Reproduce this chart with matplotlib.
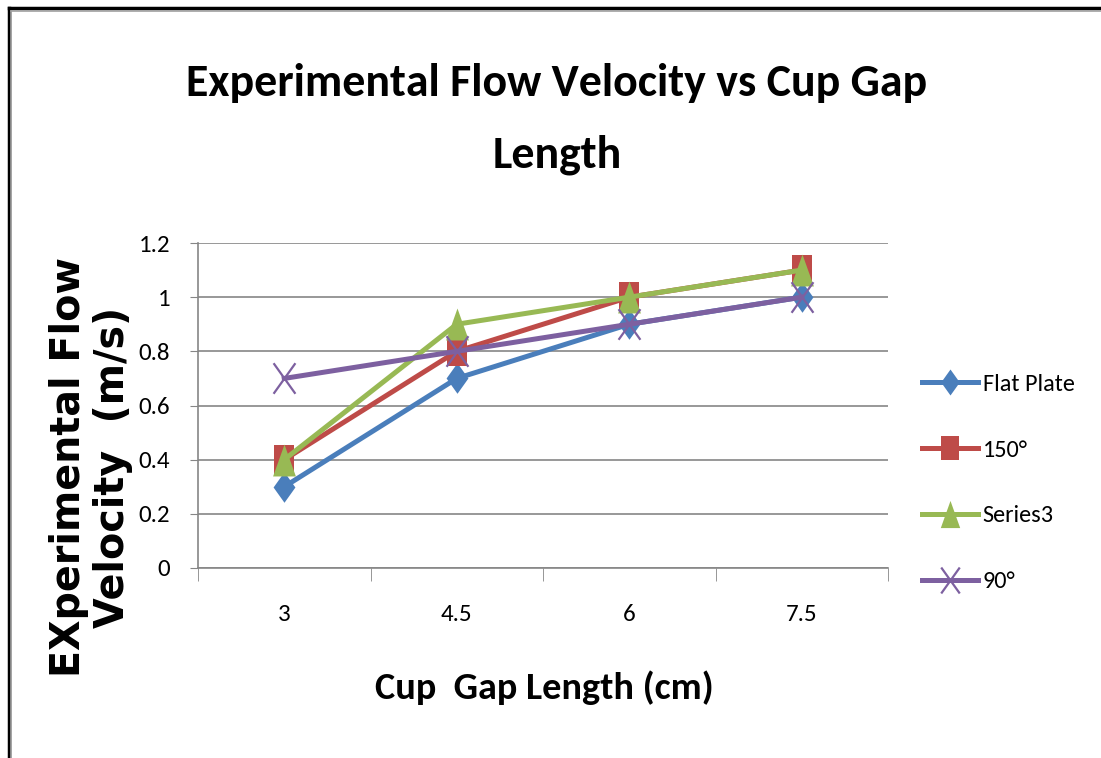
import matplotlib
matplotlib.use("Agg")
import matplotlib.pyplot as plt
from matplotlib.lines import Line2D
from matplotlib.path import Path

# gap lengths (cm) and measured velocities (m/s)
gap_labels = ["3", "4.5", "6", "7.5"]
flat_plate = [0.3, 0.7, 0.9, 1.0]
cup_150 = [0.4, 0.8, 1.0, 1.1]
series3 = [0.4, 0.9, 1.0, 1.1]
cup_90 = [0.7, 0.8, 0.9, 1.0]
y_ticks = [0, 0.2, 0.4, 0.6, 0.8, 1, 1.2]
y_tick_labels = ["0", "0.2", "0.4", "0.6", "0.8", "1", "1.2"]

calibri = ["Carlito", "DejaVu Sans"]
plt.rcParams["font.family"] = calibri

# slightly tall marker shapes
k = 1.4
diamond = Path([(0, k), (1, 0), (0, -k), (-1, 0), (0, k)], closed=True)
square = Path([(-1, -k), (1, -k), (1, k), (-1, k), (-1, -k)], closed=True)
triangle = Path([(-1, -k), (1, -k), (0, k), (-1, -k)], closed=True)
cross = Path([(-1, -k), (1, k), (-1, k), (1, -k)],
             [Path.MOVETO, Path.LINETO, Path.MOVETO, Path.LINETO])

fig = plt.figure(figsize=(11.01, 7.58), dpi=100)
W, H = 1101, 758
# plot area in pixels: left 198, right 888, top 243, bottom 568
ax = fig.add_axes([198 / W, 1 - 568 / H, (888 - 198) / W, (568 - 243) / H])

x = range(len(gap_labels))
ax.plot(x, flat_plate, color="#4A7EBB", lw=3.6, marker=diamond, ms=22, mew=0, label="Flat Plate")
ax.plot(x, cup_150, color="#BE4B48", lw=3.6, marker=square, ms=21, mew=0, label="150°")
ax.plot(x, series3, color="#98B954", lw=3.6, marker=triangle, ms=23, mew=0, label="Series3")
ax.plot(x, cup_90, color="#7D60A0", lw=3.6, marker=cross, ms=22, mew=1.6, label="90°")

ax.set_xlim(-0.5, len(gap_labels) - 0.5)
ax.set_ylim(0, 1.2)
ax.set_yticks(y_ticks)
ax.set_yticklabels(y_tick_labels, fontsize=18)
ax.set_xticks(list(x))
ax.set_xticklabels(gap_labels, fontsize=18)
ax.set_xticks([i - 0.5 for i in range(len(gap_labels) + 1)], minor=True)
ax.tick_params(axis="x", which="major", length=0, pad=26)
ax.tick_params(axis="x", which="minor", length=9.5, color="#868686", direction="out")
ax.tick_params(axis="y", length=6, color="#868686", pad=14)
ax.grid(axis="y", color="#868686", lw=1.2)
ax.set_axisbelow(True)
for s in ["top", "right"]:
    ax.spines[s].set_visible(False)
for s in ["left", "bottom"]:
    ax.spines[s].set_color("#868686")
    ax.spines[s].set_linewidth(1.2)

fig.text(557 / W, 1 - 119 / H, "Experimental Flow Velocity vs Cup Gap\nLength",
         ha="center", va="center", fontsize=33, fontweight="bold", linespacing=1.95)
fig.text(544 / W, 1 - 688 / H, "Cup  Gap Length (cm)", ha="center", va="center",
         fontsize=27.5, fontweight="bold")
fig.text(91 / W, 1 - 467 / H, "EXperimental Flow\nVelocity  (m/s)", ha="center", va="center",
         rotation=90, fontsize=28.5, fontweight="bold", family="DejaVu Sans",
         linespacing=1.1)

leg = ax.legend(loc="center left", bbox_to_anchor=(922 / W, 1 - 483 / H),
                bbox_transform=fig.transFigure, frameon=False,
                prop={"size": 17.5}, handlelength=2.3, handletextpad=0.2,
                labelspacing=1.85, borderaxespad=0, borderpad=0, markerscale=0.85)

# chart frame (left and top edges)
fig.add_artist(Line2D([9 / W, 9 / W], [0, 1 - 8 / H], color="black", lw=2.5))
fig.add_artist(Line2D([9 / W, 1], [1 - 8 / H, 1 - 8 / H], color="black", lw=2.5))
fig.add_artist(Line2D([11 / W, 1], [1 - 11 / H, 1 - 11 / H], color="#a0a0a0", lw=1.2))
fig.add_artist(Line2D([11 / W, 11 / W], [0, 1 - 11 / H], color="#a0a0a0", lw=1.2))

fig.savefig("out.png", dpi=100)
